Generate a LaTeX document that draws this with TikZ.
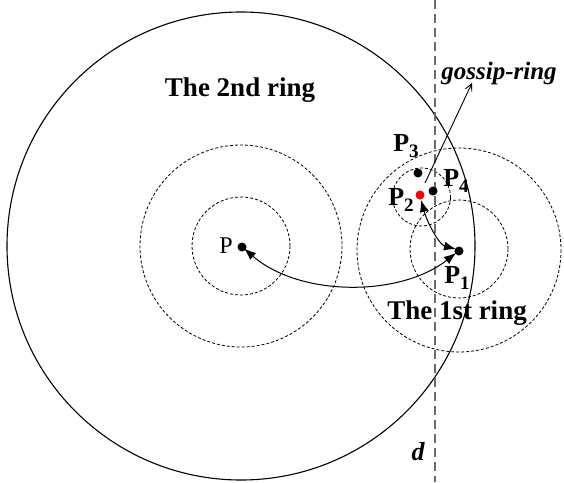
\documentclass[tikz,border=0pt]{standalone}
\usepackage{fontspec}
\setmainfont{Liberation Serif}
\usetikzlibrary{arrows.meta}
\newcommand{\plab}[1]{\textbf{P\raisebox{-6.5pt}{\fontsize{19}{19}\selectfont #1}}}
\tikzset{
  ring/.style={draw=black, line width=1.1pt},
  dring/.style={draw=black, line width=0.8pt, dash pattern=on 3pt off 2pt},
  dotnode/.style={circle, fill=black, inner sep=0pt, minimum size=9pt},
  lab/.style={font=\fontsize{26}{28}\selectfont\bfseries, inner sep=0pt},
  title/.style={font=\fontsize{27}{30}\selectfont\bfseries, inner sep=0pt},
  dblarrow/.style={line width=1pt, {Latex[length=12pt,width=9pt]}-{Latex[length=12pt,width=9pt]}},
}
\begin{document}
\begin{tikzpicture}[x=1pt,y=-1pt]
\useasboundingbox (0,0) rectangle (564,482);
% rings
\draw[ring] (241,246) circle[radius=234];
\draw[dring] (241,246) circle[radius=101];
\draw[dring] (241,246) circle[radius=49];
\draw[dring] (459,250) circle[radius=102];
\draw[dring] (459,249) circle[radius=49];
\draw[dring] (421.5,197) circle[radius=29];
% vertical line d
\coordinate (dtop) at (435,0);
\coordinate (dbot) at (435,482);
\draw[gray!85!black, line width=1.6pt, dash pattern=on 9pt off 5pt] (dtop) -- (dbot);
% points
\node[dotnode] (P) at (242,247) {};
\node[dotnode] (P1) at (459,251) {};
\node[dotnode, fill=red] (P2) at (420,195) {};
\node[dotnode] (P3) at (418,173) {};
\node[dotnode] (P4) at (433,191) {};
% labels
\node[font=\fontsize{24}{26}\selectfont, inner sep=0pt] at (226,246) {P};
\node[lab] at (457,278) {\plab{1}};
\node[lab] at (401,200) {\plab{2}};
\node[lab] at (406,146) {\plab{3}};
\node[lab] at (456,181) {\plab{4}};
\node[title] at (240,90) {The 2nd ring};
\node[title] at (457,313) {The 1st ring};
\node[font=\fontsize{25}{27}\selectfont\bfseries\itshape, inner sep=0pt] (gr) at (499,73) {gossip-ring};
\node[font=\fontsize{26}{28}\selectfont\bfseries\itshape, inner sep=0pt] at (418,452) {d};
% connectors
\coordinate (gs) at (425,183);
\coordinate (ge) at (472,83);
\draw[line width=0.9pt, -{Straight Barb[length=7pt,width=7pt]}] (gs) -- (ge);
\draw[dblarrow] (P.center) ++(2,1.5) .. controls (300,297) and (400,297) .. (456,253);
\draw[dblarrow] (421,200) .. controls (428,225) and (440,245) .. (456,249);
\end{tikzpicture}
\end{document}
